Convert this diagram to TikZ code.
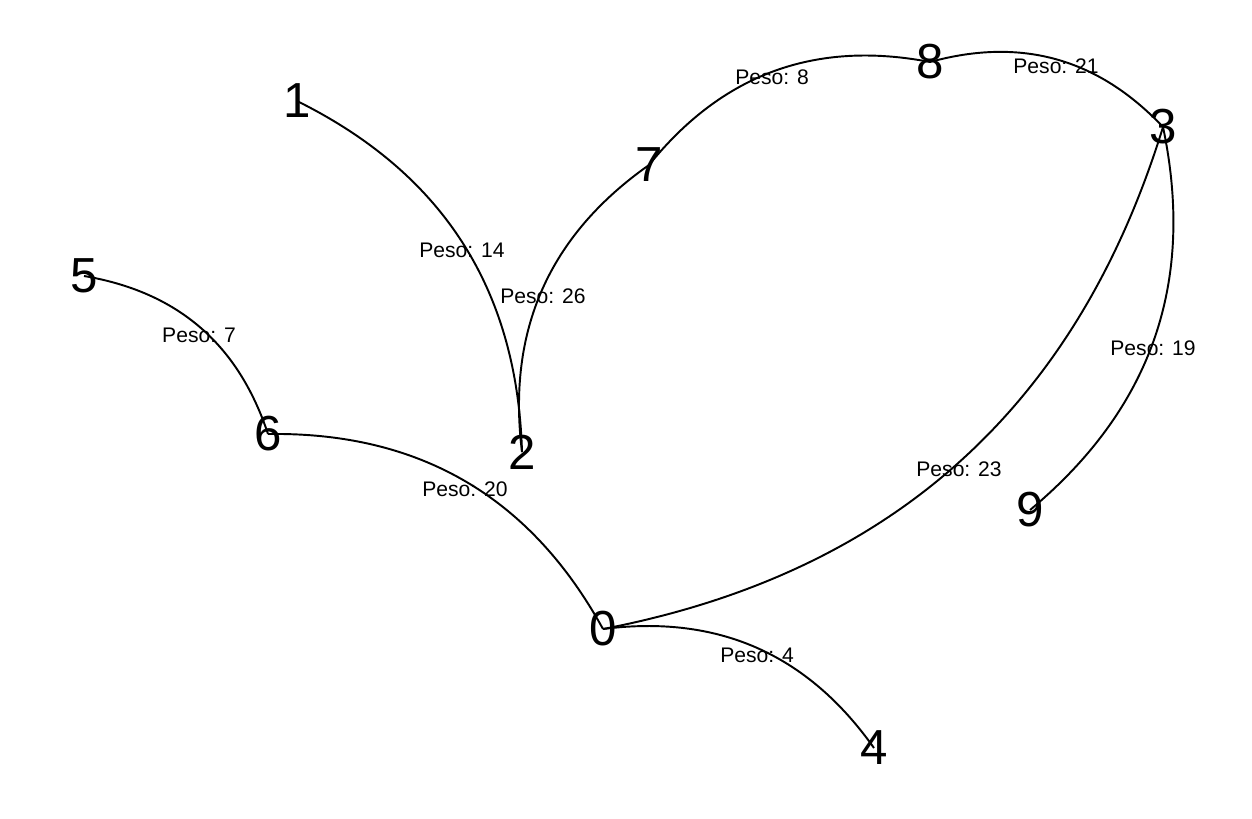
\documentclass[tikz,border=0pt]{standalone}
\usepackage{fontspec}
\setmainfont{Liberation Sans}

\begin{document}
\begin{tikzpicture}[x=0.01cm, y=0.01cm, line width=0.55pt,
            vert/.style={inner sep=0pt, font=\fontsize{14}{14}\selectfont},
            peso/.style={inner sep=0pt, font=\fontsize{6}{6}\selectfont}]
            \useasboundingbox (0,0) rectangle (1252,-818);

            \node[vert] (n0) at (603,-629) {0};
            \node[vert] (n1) at (297,-101) {1};
            \node[vert] (n2) at (522,-452) {2};
            \node[vert] (n3) at (1163,-127) {3};
            \node[vert] (n4) at (874,-748) {4};
            \node[vert] (n5) at (84,-276) {5};
            \node[vert] (n6) at (268,-434) {6};
            \node[vert] (n7) at (649,-165) {7};
            \node[vert] (n8) at (930,-62) {8};
            \node[vert] (n9) at (1030,-510) {9};

            \draw (n5.center) to[bend left=31] (n6.center);
            \draw (n6.center) to[bend left=31] (n0.center);
            \draw (n0.center) to[bend left=31] (n4.center);
            \draw (n3.center) to[bend left=31] (n0.center);
            \draw (n3.center) to[bend left=31] (n9.center);
            \draw (n8.center) to[bend left=31] (n3.center);
            \draw (n7.center) to[bend left=31] (n8.center);
            \draw (n2.center) to[bend left=31] (n7.center);
            \draw (n1.center) to[bend left=31] (n2.center);

            \node[peso] (p14) at (462,-250) {Peso: 14};
            \node[peso] (p26) at (543,-296) {Peso: 26};
            \node[peso] (p7) at (199,-335) {Peso: 7};
            \node[peso] (p20) at (465,-489) {Peso: 20};
            \node[peso] (p4) at (757,-655) {Peso: 4};
            \node[peso] (p23) at (959,-469) {Peso: 23};
            \node[peso] (p19) at (1153,-348) {Peso: 19};
            \node[peso] (p21) at (1056,-66) {Peso: 21};
            \node[peso] (p8) at (772,-77) {Peso: 8};
\end{tikzpicture}
\end{document}
